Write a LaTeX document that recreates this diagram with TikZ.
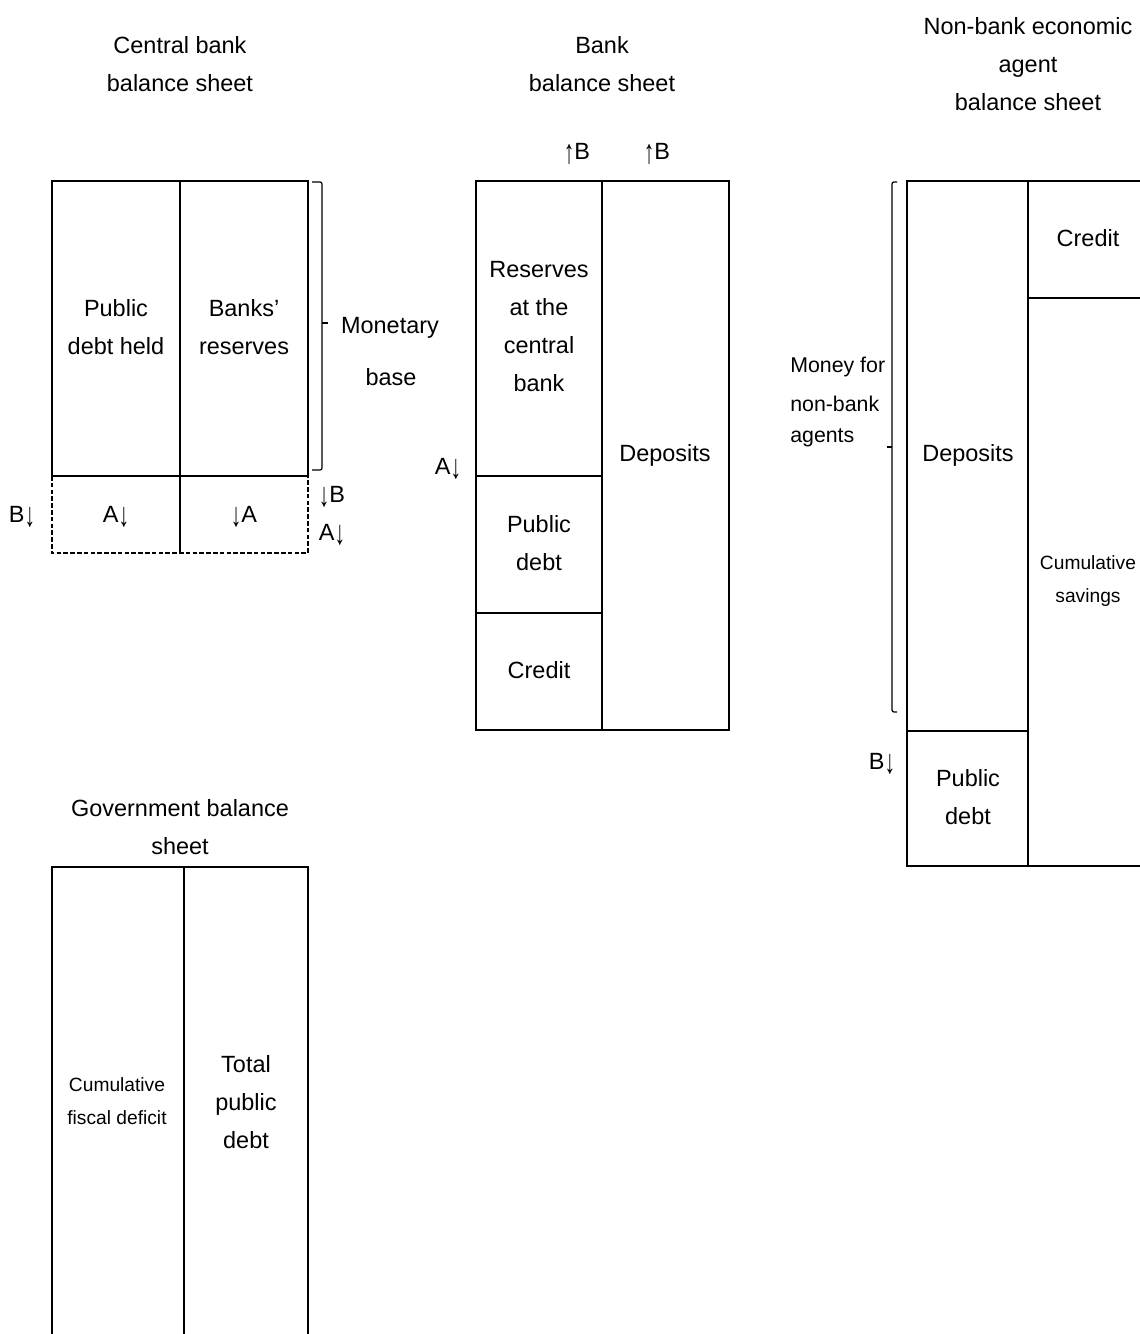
\documentclass[tikz,border=0pt]{standalone}
\usepackage{fontspec}
\setmainfont{Liberation Sans}
\newcommand\dnar{\raisebox{-0.2em}{\scalebox{0.9}[1.45]{↓}}}
\newcommand\upar{\raisebox{-0.2em}{\scalebox{0.9}[1.45]{↑}}}
\begin{document}
\begin{tikzpicture}[x=0.75pt,y=-0.75pt,
  box/.style={line width=1.6pt},
  dsh/.style={line width=1.3pt, dash pattern=on 3.5pt off 1.6pt},
  brk/.style={line width=0.9pt, rounded corners=1.5pt},
  txt/.style={font=\fontsize{17.6}{28.5}\selectfont, align=center, inner sep=0pt},
  sml/.style={font=\fontsize{14.4}{24.5}\selectfont, align=center, inner sep=0pt},
  mid/.style={font=\fontsize{16}{27}\selectfont, align=left, inner sep=0pt}]
\useasboundingbox (0,0) rectangle (1139,1334);
% ---------- Central bank ----------
\draw[box] (52,476) -- (52,181) -- (308,181) -- (308,476) -- cycle;
\draw[box] (180,181) -- (180,553);
\draw[dsh] (52,476) -- (52,553) -- (308,553) -- (308,476);
\draw[brk] (312,182) -- (322,182) -- (322,470) -- (312,470);
\draw[line width=0.9pt] (322,323) -- (328,323);
\node[txt] (cbT) at (180,64) {Central bank\\balance sheet};
\node[txt] (cb1) at (116,327) {Public\\debt held};
\node[txt] (cb2) at (244,327) {Banks’\\reserves};
\node[txt] (mb1) at (390,328) {Monetary};
\node[txt] (mb2) at (391,377) {base};
\node[txt] (cbA1) at (116,517) {A\dnar};
\node[txt] (cbA2) at (244,517) {\dnar A};
\node[txt] (cbB) at (22,517) {B\dnar};
\node[txt] (cbB2) at (332,497) {\dnar B};
\node[txt] (cbA3) at (332,535) {A\dnar};
% ---------- Bank ----------
\draw[box] (476,181) rectangle (729,730);
\draw[box] (602,181) -- (602,730);
\draw[box] (476,476) -- (602,476);
\draw[box] (476,613) -- (602,613);
\node[txt] (bT) at (602,64) {Bank\\balance sheet};
\node[txt] (bR) at (539,327) {Reserves\\at the\\central\\bank};
\node[txt] (bD) at (665,455) {Deposits};
\node[txt] (bP) at (539,543) {Public\\debt};
\node[txt] (bC) at (539,670) {Credit};
\node[txt] (bB1) at (577,154) {\upar B};
\node[txt] (bB2) at (657,154) {\upar B};
\node[txt] (bA) at (448,469) {A\dnar};
% ---------- Non-bank ----------
\draw[box] (1142,181) -- (907,181) -- (907,866) -- (1142,866);
\draw[box] (1028,181) -- (1028,866);
\draw[box] (1028,298) -- (1142,298);
\draw[box] (907,731) -- (1028,731);
\draw[brk] (897,182) -- (892,182) -- (892,712) -- (897,712);
\draw[line width=0.9pt] (892,447) -- (887,447);
\node[txt] (nbT) at (1028,64) {Non-bank economic\\agent\\balance sheet};
\node[mid, anchor=west] (nbM1) at (790,367) {Money for};
\node[mid, anchor=west] (nbM2) at (790,404) {non-bank};
\node[mid, anchor=west] (nbM3) at (790,438) {agents};
\node[txt] (nbD) at (968,455) {Deposits};
\node[txt] (nbB) at (882,764) {B\dnar};
\node[txt] (nbP) at (968,797) {Public\\debt};
\node[txt] (nbC) at (1088,238) {Credit};
\node[sml] (nbS) at (1088,581) {Cumulative\\savings};
% ---------- Government ----------
\draw[box] (52,1340) -- (52,867) -- (308,867) -- (308,1340);
\draw[box] (184,867) -- (184,1340);
\node[txt] (gT) at (180,827) {Government balance\\sheet};
\node[sml] (gF) at (117,1101) {Cumulative\\fiscal deficit};
\node[txt] (gD) at (246,1102) {Total\\public\\debt};
\end{tikzpicture}
\end{document}
